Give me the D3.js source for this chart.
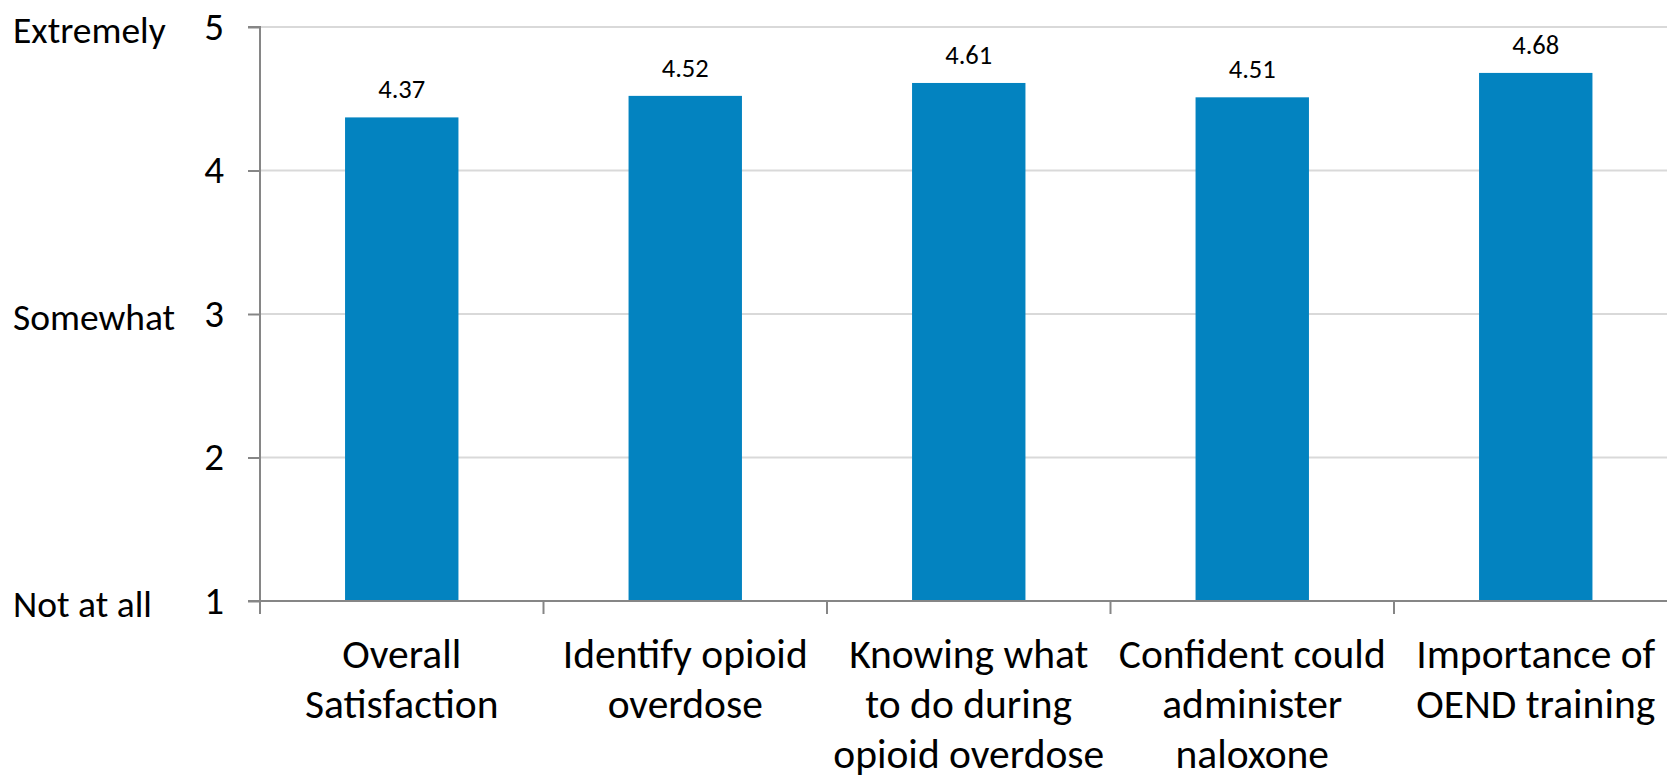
<!DOCTYPE html>
<html>
<head>
<meta charset="utf-8">
<script src="https://cdn.jsdelivr.net/npm/d3@7"></script>
<style>
  html, body { margin: 0; padding: 0; background: #fff; }
  svg { display: block; }
  text { font-family: Carlito, Lato, "Open Sans", sans-serif; fill: #000; }
</style>
</head>
<body>
<svg id="chart" width="1667" height="779"></svg>
<script>
const categories = [
  "Overall Satisfaction",
  "Identify opioid overdose",
  "Knowing what to do during opioid overdose",
  "Confident could administer naloxone",
  "Importance of OEND training"
];
const categoryLines = [
  ["Overall", "Satisfaction"],
  ["Identify opioid", "overdose"],
  ["Knowing what", "to do during", "opioid overdose"],
  ["Confident could", "administer", "naloxone"],
  ["Importance of", "OEND training"]
];
const values = [4.37, 4.52, 4.61, 4.51, 4.68];
const yTicks = [1, 2, 3, 4, 5];
const yTickWords = [
  { v: 5, label: "Extremely" },
  { v: 3, label: "Somewhat" },
  { v: 1, label: "Not at all" }
];

(function () {
const svg = d3.select("#chart");
const mLeft = 260, mRight = 1677.5, mTop = 27, mBottom = 601;

const x = d3.scaleBand().domain(categories).range([mLeft, mRight])
  .paddingInner(0.6).paddingOuter(0.3);
const y = d3.scaleLinear().domain([1, 5]).range([mBottom, mTop]);

// gridlines
svg.append("g").selectAll("line").data(yTicks.filter(t => t > 1)).join("line")
  .attr("x1", mLeft).attr("x2", 1667)
  .attr("y1", d => y(d)).attr("y2", d => y(d))
  .attr("stroke", "#d9d9d9").attr("stroke-width", 2);

// bars
svg.append("g").selectAll("rect").data(values).join("rect")
  .attr("x", (d, i) => x(categories[i]))
  .attr("width", x.bandwidth())
  .attr("y", d => y(d))
  .attr("height", d => y(1) - y(d))
  .attr("fill", "#0383c0");

// value labels
svg.append("g").selectAll("text").data(values).join("text")
  .attr("x", (d, i) => x(categories[i]) + x.bandwidth() / 2)
  .attr("y", d => y(d) - 19)
  .attr("text-anchor", "middle")
  .attr("font-size", 26.5)
  .text(d => d.toFixed(2));

// y axis
const yAxis = d3.axisLeft(y).tickValues(yTicks).tickSize(12).tickPadding(24)
  .tickFormat(d3.format("d"));
const gy = svg.append("g").attr("transform", `translate(${mLeft},0)`).call(yAxis);
gy.select(".domain").attr("stroke", "#868686").attr("stroke-width", 2)
  .attr("d", `M-12,${mTop}H0V${mBottom}`);
gy.selectAll(".tick line").attr("stroke", "#868686").attr("stroke-width", 2);
gy.selectAll(".tick text").attr("font-size", 39).attr("fill", "#000")
  .attr("font-family", "Carlito, Lato, sans-serif");

// word labels on y
svg.append("g").selectAll("text").data(yTickWords).join("text")
  .attr("x", 13).attr("y", d => y(d.v) + 4)
  .attr("dy", "0.32em")
  .attr("font-size", 37.5)
  .text(d => d.label);

// x axis
const xEdges = d3.range(categories.length).map(i => mLeft + i * x.step());
const gx = svg.append("g");
gx.append("line").attr("x1", mLeft - 12).attr("x2", 1667)
  .attr("y1", mBottom).attr("y2", mBottom)
  .attr("stroke", "#868686").attr("stroke-width", 2);
gx.selectAll("line.t").data(xEdges).join("line").attr("class", "t")
  .attr("x1", d => d).attr("x2", d => d)
  .attr("y1", mBottom).attr("y2", mBottom + 13)
  .attr("stroke", "#868686").attr("stroke-width", 2);

// category labels
const lab = svg.append("g").selectAll("text").data(categories).join("text")
  .attr("text-anchor", "middle")
  .attr("font-size", 41.5)
  .attr("x", d => x(d) + x.bandwidth() / 2)
  .attr("y", 668);
lab.each(function(d, i) {
  const t = d3.select(this);
  categoryLines[i].forEach((ln, k) => {
    t.append("tspan").attr("x", x(d) + x.bandwidth() / 2)
      .attr("y", 668 + k * 50).text(ln);
  });
});
})();
</script>
</body>
</html>
